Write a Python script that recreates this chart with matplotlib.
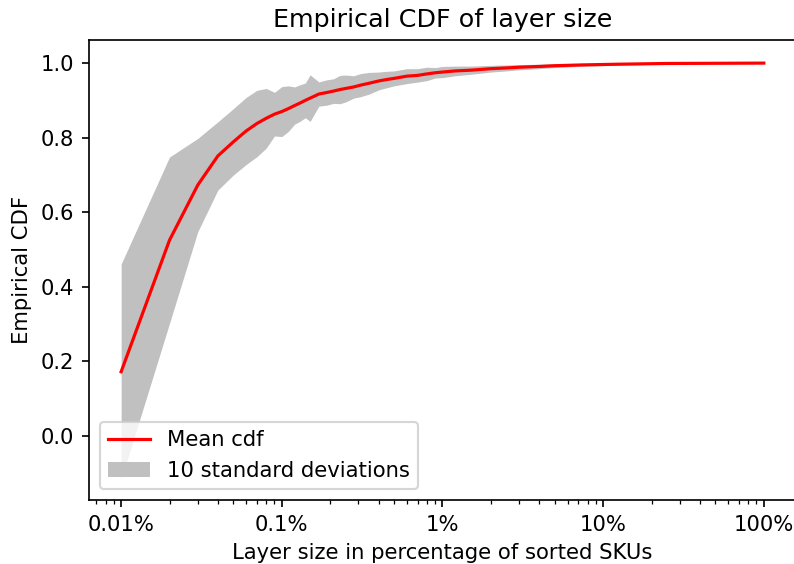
import matplotlib
matplotlib.use("Agg")
import matplotlib.pyplot as plt
import numpy as np

# Layer size, as a percentage of the sorted SKUs
layer_size_pct = [0.01, 0.02, 0.03, 0.04, 0.05, 0.06, 0.07, 0.08, 0.09, 0.10,
                  0.11, 0.12, 0.13, 0.14, 0.15, 0.17, 0.19, 0.21, 0.23, 0.25,
                  0.28, 0.31, 0.35, 0.40, 0.45, 0.50, 0.6, 0.7, 0.8, 0.9,
                  1.0, 1.2, 1.5, 2.0, 2.5, 3.0, 4.0, 5.0, 7.2, 12.2, 25.0, 100.0]

# Mean empirical CDF across runs
cdf_mean = [0.172, 0.525, 0.673, 0.751, 0.789, 0.818, 0.838, 0.852, 0.863, 0.870,
            0.878, 0.886, 0.893, 0.900, 0.906, 0.917, 0.921, 0.925, 0.929, 0.932,
            0.936, 0.941, 0.946, 0.952, 0.956, 0.959, 0.965, 0.967, 0.971, 0.974,
            0.976, 0.979, 0.981, 0.985, 0.987, 0.989, 0.991, 0.993, 0.995, 0.997,
            0.999, 1.000]

# Standard deviation of the CDF across runs
cdf_std = [0.0578, 0.0446, 0.0250, 0.0183, 0.0178, 0.0180, 0.0178, 0.0160, 0.0117, 0.0134,
           0.0122, 0.0100, 0.0098, 0.0093, 0.0125, 0.0065, 0.0068, 0.0066, 0.0076, 0.0072,
           0.0060, 0.0062, 0.0058, 0.0048, 0.0044, 0.0040, 0.0040, 0.0036, 0.0036, 0.0028,
           0.0030, 0.0026, 0.0022, 0.0018, 0.0016, 0.0014, 0.0012, 0.0010, 0.0008, 0.0005,
           0.0003, 0.0]

n_std = 10
tick_values = [0.01, 0.1, 1, 10, 100]
tick_labels = ["0.01%", "0.1%", "1%", "10%", "100%"]

x = np.array(layer_size_pct)
mean = np.array(cdf_mean)
std = np.array(cdf_std)

DPI = 152
fig = plt.figure(figsize=(794 / DPI, 564 / DPI), dpi=DPI)
ax = fig.add_axes([0.1121, 0.1135, 0.8904, 0.8156])

band = ax.fill_between(x, mean - n_std / 2 * std, mean + n_std / 2 * std,
                       color="silver", linewidth=0, label=f"{n_std} standard deviations")
line, = ax.plot(x, mean, color="red", linewidth=1.5, label="Mean cdf")

ax.set_xscale("log")
ax.set_xticks(tick_values)
ax.set_xticklabels(tick_labels)
ax.set_ylim(-0.172, 1.062)

ax.set_title("Empirical CDF of layer size")
ax.set_xlabel("Layer size in percentage of sorted SKUs")
ax.set_ylabel("Empirical CDF")
ax.legend(handles=[line, band], loc="lower left")

fig.savefig("out.png", dpi=DPI)
